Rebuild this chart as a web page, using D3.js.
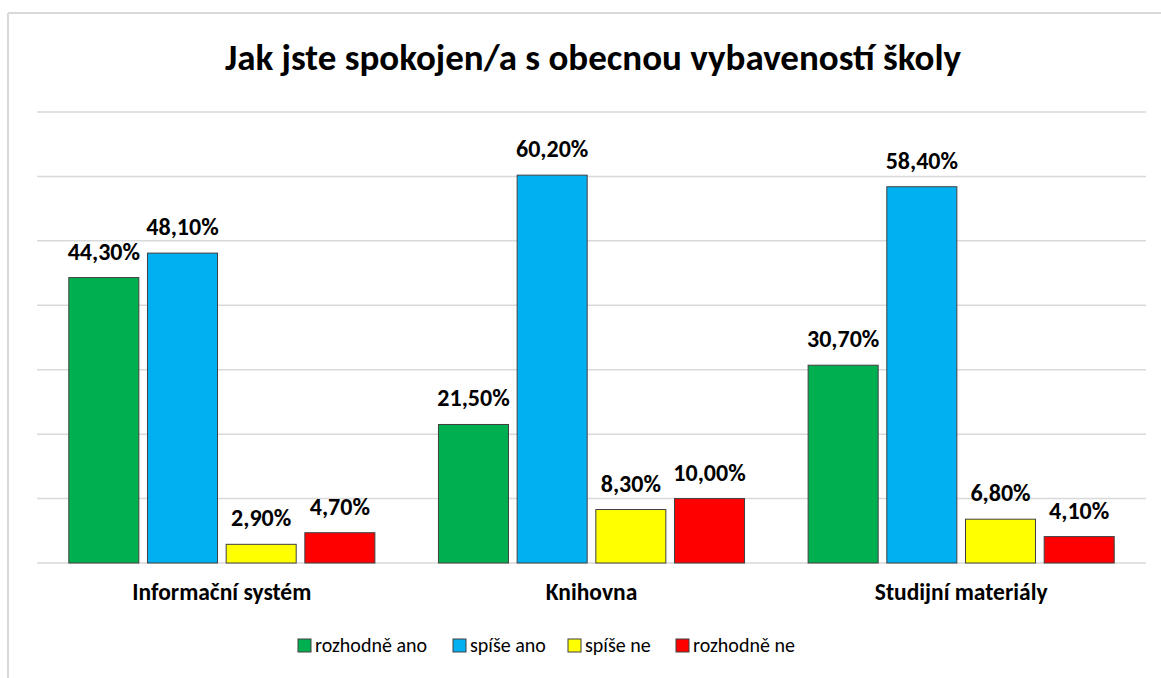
<!DOCTYPE html>
<html>
<head>
<meta charset="utf-8">
<script src="https://cdn.jsdelivr.net/npm/d3@7"></script>
<style>
  html, body { margin: 0; padding: 0; background: #fff; }
  svg { display: block; font-family: Carlito, Calibri, Lato, "Open Sans", sans-serif; }
</style>
</head>
<body>
<svg id="chart" width="1161" height="678"></svg>
<script>
const title = "Jak jste spokojen/a s obecnou vybaveností školy";
const categories = ["Informační systém", "Knihovna", "Studijní materiály"];
const seriesNames = ["rozhodně ano", "spíše ano", "spíše ne", "rozhodně ne"];
const seriesColors = ["#00b050", "#00b0f0", "#ffff00", "#ff0000"];
const rozhodneAno = [44.3, 21.5, 30.7];
const spiseAno = [48.1, 60.2, 58.4];
const spiseNe = [2.9, 8.3, 6.8];
const rozhodneNe = [4.7, 10.0, 4.1];
const yTicks = [0, 10, 20, 30, 40, 50, 60, 70];

const seriesValues = [rozhodneAno, spiseAno, spiseNe, rozhodneNe];
const data = categories.map((c, i) => ({
  cat: c,
  vals: seriesNames.map((s, j) => ({ s, v: seriesValues[j][i], color: seriesColors[j] }))
}));

const svg = d3.select("#chart");
const W = 1161, H = 678;

// outer frame (partially visible)
svg.append("line").attr("x1", 8).attr("x2", W).attr("y1", 13).attr("y2", 13)
  .attr("stroke", "#d9d9d9").attr("stroke-width", 2);
svg.append("line").attr("x1", 8).attr("x2", 8).attr("y1", 13).attr("y2", H)
  .attr("stroke", "#d9d9d9").attr("stroke-width", 2);

const plot = { left: 37, right: 1146, top: 112, bottom: 563 };

const x0 = d3.scaleBand().domain(categories).range([plot.left, plot.right]).paddingInner(0.172).paddingOuter(0.086);
const x1 = d3.scaleBand().domain(seriesNames).range([0, x0.bandwidth()]).paddingInner(0.11).paddingOuter(0);
const y = d3.scaleLinear().domain([0, 70]).range([plot.bottom, plot.top]);

// gridlines
svg.append("g").selectAll("line").data(yTicks).join("line")
  .attr("x1", plot.left).attr("x2", plot.right)
  .attr("y1", d => y(d)).attr("y2", d => y(d))
  .attr("stroke", "#d9d9d9").attr("stroke-width", 1.5);

// title
svg.append("text").attr("x", 593).attr("y", 70).attr("text-anchor", "middle")
  .attr("font-size", 37).attr("font-weight", "bold").attr("fill", "#000").text(title);

const groups = svg.append("g").selectAll("g").data(data).join("g")
  .attr("transform", d => `translate(${x0(d.cat)},0)`);

groups.selectAll("rect").data(d => d.vals).join("rect")
  .attr("x", d => x1(d.s)).attr("width", x1.bandwidth())
  .attr("y", d => y(d.v)).attr("height", d => y(0) - y(d.v))
  .attr("fill", d => d.color).attr("stroke", "#404040").attr("stroke-width", 1);

const fmt = v => v.toFixed(2).replace(".", ",") + "%";
groups.selectAll("text.lbl").data(d => d.vals).join("text").attr("class", "lbl")
  .attr("x", d => x1(d.s) + x1.bandwidth() / 2).attr("y", d => y(d.v) - 18)
  .attr("text-anchor", "middle").attr("font-size", 24).attr("font-weight", "bold")
  .attr("fill", "#000").text(d => fmt(d.v));

// category axis labels
svg.append("g").selectAll("text").data(categories).join("text")
  .attr("x", d => x0(d) + x0.bandwidth() / 2).attr("y", 600)
  .attr("text-anchor", "middle").attr("font-size", 23.5).attr("font-weight", "bold")
  .attr("fill", "#000").text(d => d);

// legend
const legendX = [298, 453, 568, 676];
const leg = svg.append("g").selectAll("g").data(seriesNames).join("g")
  .attr("transform", (d, i) => `translate(${legendX[i]},639)`);
leg.append("rect").attr("width", 13).attr("height", 13)
  .attr("fill", (d, i) => seriesColors[i]).attr("stroke", "#404040").attr("stroke-width", 1);
leg.append("text").attr("x", 17).attr("y", 13).attr("font-size", 20).attr("fill", "#000").text(d => d);
</script>
</body>
</html>
